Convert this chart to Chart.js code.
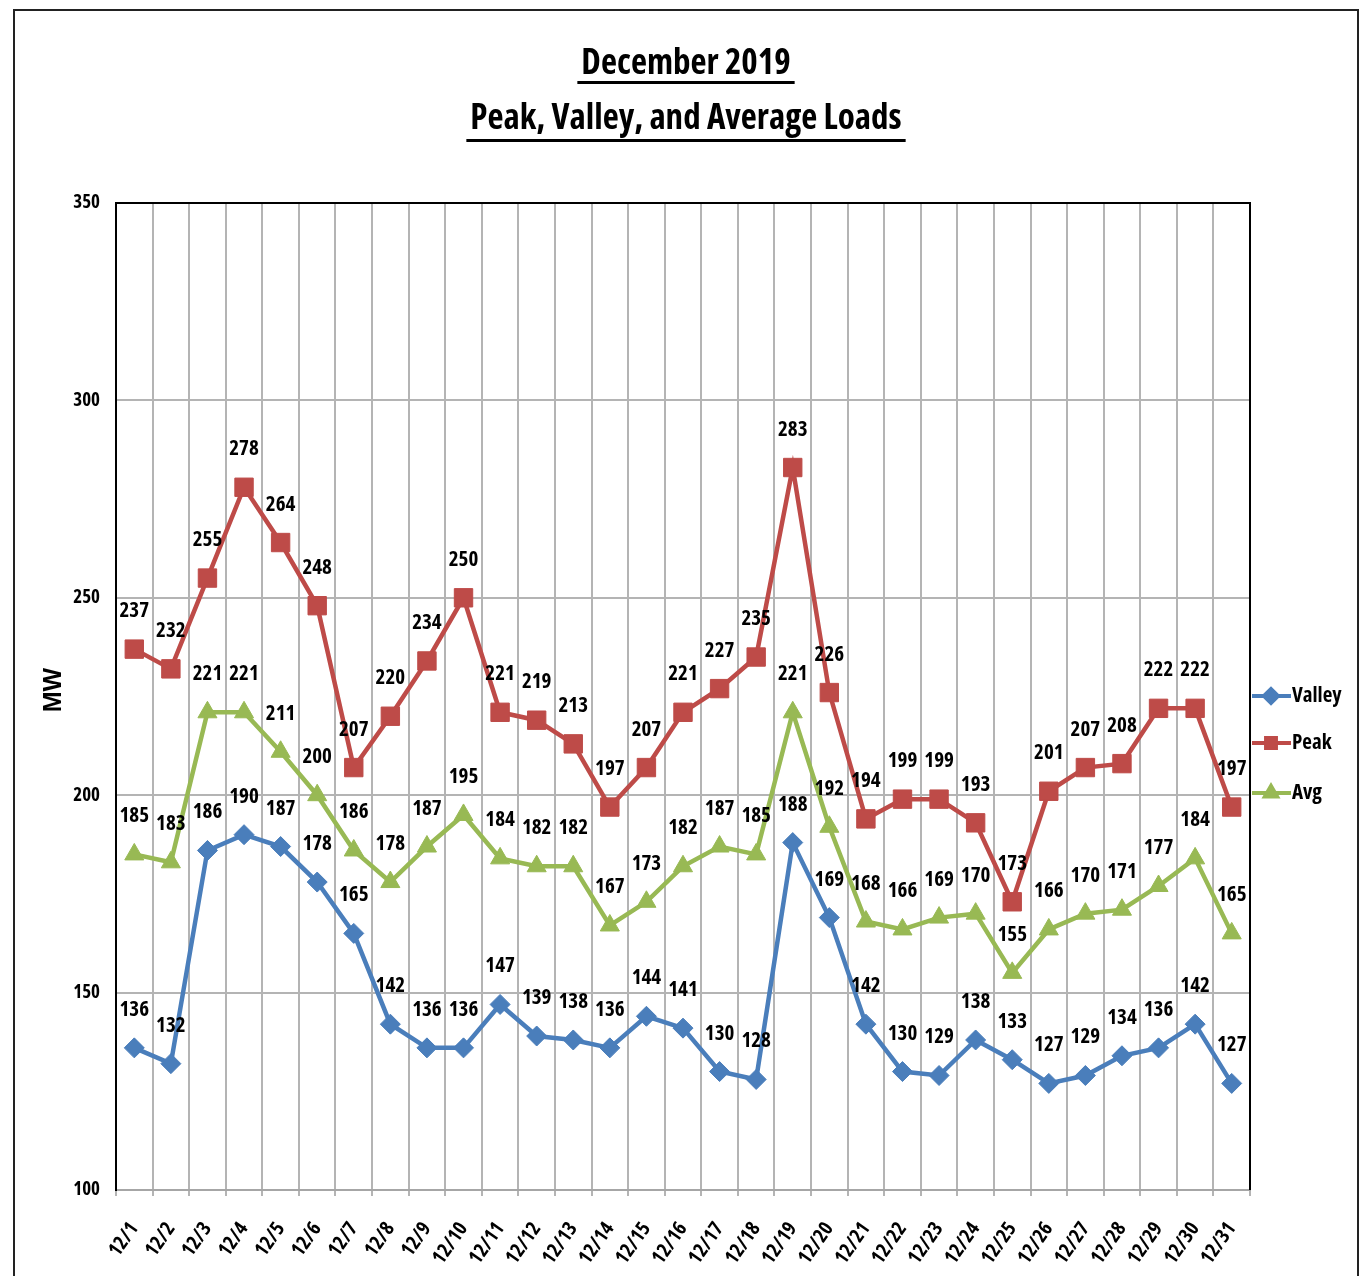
<!DOCTYPE html>
<html>
<head>
<meta charset="utf-8">
<script src="https://cdn.jsdelivr.net/npm/chart.js@4"></script>
<style>
  html, body { margin: 0; padding: 0; background: #fff; }
  canvas { display: block; }
</style>
</head>
<body>
<canvas id="loadChart" width="1363" height="1276"></canvas>
<script>
// chart data
const days = ['12/1', '12/2', '12/3', '12/4', '12/5', '12/6', '12/7', '12/8', '12/9', '12/10',
    '12/11', '12/12', '12/13', '12/14', '12/15', '12/16', '12/17', '12/18', '12/19', '12/20',
    '12/21', '12/22', '12/23', '12/24', '12/25', '12/26', '12/27', '12/28', '12/29', '12/30', '12/31'];
const valley = [136, 132, 186, 190, 187, 178, 165, 142, 136, 136, 147, 139, 138, 136, 144, 141,
    130, 128, 188, 169, 142, 130, 129, 138, 133, 127, 129, 134, 136, 142, 127];
const peak = [237, 232, 255, 278, 264, 248, 207, 220, 234, 250, 221, 219, 213, 197, 207, 221,
    227, 235, 283, 226, 194, 199, 199, 193, 173, 201, 207, 208, 222, 222, 197];
const avg = [185, 183, 221, 221, 211, 200, 186, 178, 187, 195, 184, 182, 182, 167, 173, 182,
    187, 185, 221, 192, 168, 166, 169, 170, 155, 166, 170, 171, 177, 184, 165];
const yTicks = [100, 150, 200, 250, 300, 350];
const titleLines = ['December 2019', 'Peak, Valley, and Average Loads'];

// Open Sans with the condensed width axis stands in for Calibri
const FAMILY = "'Open Sans', sans-serif";
const BOLD = 'bold condensed';
const GRID = '#b4b4b4';

const seriesStyles = [
    { label: 'Valley', data: valley, color: '#4a7ebb', point: 'rectRot', radius: 10 },
    { label: 'Peak', data: peak, color: '#be4b48', point: 'rect', radius: 13 },
    { label: 'Avg', data: avg, color: '#98b954', point: 'triangle', radius: 11 }
];

// value labels above every point
const valueLabels = {
    id: 'valueLabels',
    afterDatasetsDraw(chart) {
        const ctx = chart.ctx;
        ctx.save();
        ctx.font = BOLD + ' 21px ' + FAMILY;
        ctx.fillStyle = '#000';
        ctx.textAlign = 'center';
        ctx.textBaseline = 'middle';
        chart.data.datasets.forEach((ds, i) => {
            chart.getDatasetMeta(i).data.forEach((pt, j) => {
                ctx.fillText(String(ds.data[j]), pt.x, pt.y - 38);
            });
        });
        ctx.restore();
    }
};

// title, axis title, legend, frame
const decorations = {
    id: 'decorations',
    afterDraw(chart) {
        const ctx = chart.ctx;
        const area = chart.chartArea;
        ctx.save();

        // plot border top/right
        ctx.strokeStyle = '#000';
        ctx.lineWidth = 2;
        ctx.beginPath();
        ctx.moveTo(area.left, area.top);
        ctx.lineTo(area.right, area.top);
        ctx.lineTo(area.right, area.bottom);
        ctx.stroke();

        // outer frame
        ctx.strokeStyle = '#222';
        ctx.lineWidth = 2;
        ctx.strokeRect(14, 10, 1344, 1300);

        // title with underline
        ctx.fillStyle = '#000';
        ctx.font = BOLD + ' 35px ' + FAMILY;
        ctx.textAlign = 'center';
        ctx.textBaseline = 'alphabetic';
        const cx = 686;
        const baselines = [74, 129];
        const underlines = [81, 139];
        titleLines.forEach((line, i) => {
            ctx.fillText(line, cx, baselines[i]);
            const w = ctx.measureText(line).width;
            ctx.fillRect(cx - w / 2 - 4, underlines[i], w + 8, 3);
        });

        // y axis title
        ctx.save();
        ctx.translate(54, 690);
        ctx.rotate(-Math.PI / 2);
        ctx.font = "bold 25px 'Liberation Sans', Arial, sans-serif";
        ctx.textAlign = 'center';
        ctx.textBaseline = 'middle';
        ctx.fillText('MW', 0, 0);
        ctx.restore();

        // legend
        const legendY = [696, 743, 793];
        seriesStyles.forEach((s, i) => {
            const y = legendY[i];
            ctx.strokeStyle = s.color;
            ctx.fillStyle = s.color;
            ctx.lineWidth = 4;
            ctx.beginPath();
            ctx.moveTo(1252, y);
            ctx.lineTo(1291, y);
            ctx.stroke();
            Chart.helpers.drawPoint(ctx, { pointStyle: s.point, radius: 7, rotation: 0, borderWidth: 1 }, 1271, y);
            ctx.fill();
            ctx.fillStyle = '#000';
            ctx.font = BOLD + ' 21px ' + FAMILY;
            ctx.textAlign = 'left';
            ctx.textBaseline = 'middle';
            ctx.fillText(s.label, 1292, y);
        });

        ctx.restore();
    }
};

new Chart(document.getElementById('loadChart'), {
    type: 'line',
    data: {
        labels: days,
        datasets: seriesStyles.map(s => ({
            label: s.label,
            data: s.data,
            borderColor: s.color,
            backgroundColor: s.color,
            borderWidth: 4.5,
            pointStyle: s.point,
            pointRadius: s.radius,
            pointBorderWidth: 1,
            tension: 0
        }))
    },
    options: {
        responsive: false,
        animation: false,
        layout: { padding: { top: 203, left: 16, right: 113, bottom: 0 } },
        plugins: {
            legend: { display: false },
            title: { display: false },
            tooltip: { enabled: false }
        },
        scales: {
            x: {
                offset: true,
                grid: { offset: true, color: GRID, lineWidth: 2, tickLength: 6 },
                border: { color: '#a6a6a6', width: 2 },
                ticks: {
                    color: '#000',
                    font: { family: FAMILY, size: 20, weight: BOLD },
                    minRotation: 55,
                    maxRotation: 55,
                    autoSkip: false,
                    padding: 22
                },
                afterFit: (scale) => { scale.height = 86; }
            },
            y: {
                min: yTicks[0],
                max: yTicks[yTicks.length - 1],
                grid: {
                    color: (c) => c.tick && c.tick.value === 350 ? '#000' : GRID,
                    lineWidth: 2,
                    drawTicks: false
                },
                border: { color: '#000', width: 2 },
                ticks: {
                    stepSize: 50,
                    color: '#000',
                    font: { family: FAMILY, size: 19, weight: BOLD },
                    padding: 16
                },
                afterFit: (scale) => { scale.width = 100; }
            }
        }
    },
    plugins: [valueLabels, decorations]
});
</script>
</body>
</html>
